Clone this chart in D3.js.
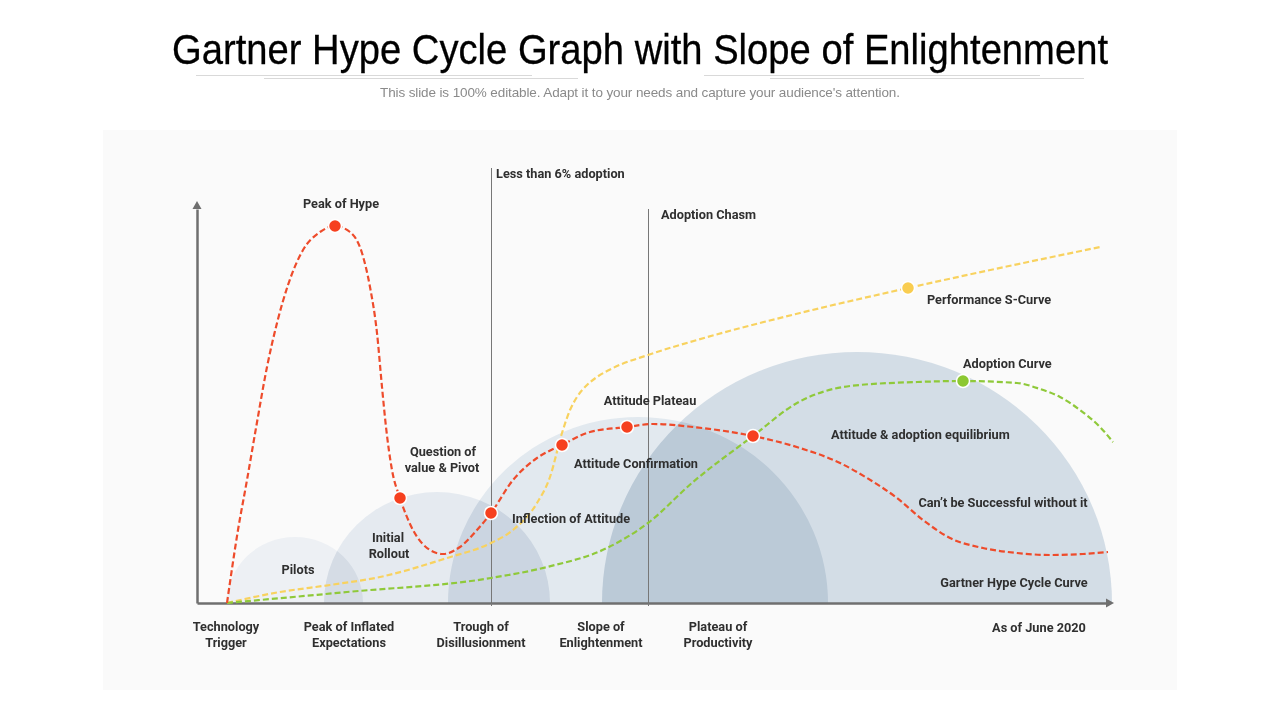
<!DOCTYPE html>
<html>
<head>
<meta charset="utf-8">
<script src="https://cdn.jsdelivr.net/npm/d3@7"></script>
<style>
  html, body { margin: 0; padding: 0; background: #fff; }
  svg { display: block; }
</style>
</head>
<body>
<svg id="plot" width="1280" height="720"></svg>
<script>
const hypeX = [30, 41, 50, 59, 70, 80, 91, 106, 123, 138, 153, 165, 173, 180, 185, 189, 195, 203, 216, 233, 246, 263, 280, 294, 316, 340, 365, 393, 430, 456, 496, 556, 603, 643, 670, 700, 726, 753, 786, 820, 853, 886, 911];
const hypeY = [0, 73, 123, 175, 236, 280, 318, 353, 371, 377, 371, 350, 316, 270, 216, 176, 133, 105, 73, 53, 49, 56, 73, 90, 123, 145, 158, 171, 176, 179, 176, 167, 155, 140, 125, 105, 83, 65, 55, 50, 48, 49, 51];

const perfX = [30, 83, 133, 183, 250, 294, 316, 340, 353, 365, 373, 380, 390, 400, 416, 451, 500, 603, 711, 903];
const perfY = [0, 11, 18, 26, 45, 60, 73, 100, 126, 170, 193, 206, 218, 226, 235, 248, 263, 290, 315, 356];

const adoptX = [30, 150, 294, 350, 410, 451, 496, 556, 600, 653, 720, 766, 820, 843, 863, 883, 903, 916];
const adoptY = [0, 11, 25, 36, 55, 80, 121, 167, 200, 217, 221, 222, 220, 214, 206, 193, 176, 161];

const hypeDotX = [138, 203, 294, 365, 430, 556];
const hypeDotY = [377, 105, 90, 158, 176, 167];

// Phase humps: centre, half width, height
const humpCentre = [98, 240, 441, 660];
const humpRadius = [68, 113, 190, 255];
const humpHeight = [66, 111, 186, 251];
const humpColour = ["#edf0f4", "#e5eaf0", "#e2e9ef", "#d3dde6"];

// Where the two adoption markers sit on the x axis, and how high they reach
const markerX = [294, 451];
const markerTop = [435, 394];

const svg = d3.select("#plot");
const originX = 197;
const originY = 603;
const axisLenX = 909;
const axisLenY = 394;
const arrowLen = 8;
const x = d3.scaleLinear().domain([0, axisLenX]).range([originX, originX + axisLenX]);
const y = d3.scaleLinear().domain([0, axisLenY]).range([originY, originY - axisLenY]);

svg.append("rect").attr("x", 103).attr("y", 130).attr("width", 1074).attr("height", 560).attr("fill", "#fafafa");

// Title block
svg.append("text")
    .attr("x", 172).attr("y", 64)
    .attr("textLength", 936).attr("lengthAdjust", "spacingAndGlyphs")
    .attr("font-family", "Liberation Sans Narrow, Liberation Sans").attr("font-size", 43).attr("fill", "#000")
    .attr("stroke", "#000").attr("stroke-width", 0.3)
    .text("Gartner Hype Cycle Graph with Slope of Enlightenment");

[[196, 532, 75], [264, 578, 78], [704, 1040, 75], [770, 1084, 78]].forEach(d => {
    svg.append("line")
        .attr("x1", d[0]).attr("x2", d[1]).attr("y1", d[2]).attr("y2", d[2])
        .attr("stroke", "#d9d9d9").attr("stroke-width", 1)
        .attr("shape-rendering", "crispEdges");
});

svg.append("text")
    .attr("x", 380).attr("y", 97)
    .attr("textLength", 520).attr("lengthAdjust", "spacing")
    .attr("font-family", "Liberation Sans Narrow, Liberation Sans").attr("font-size", 13.5).attr("fill", "#8a8a8a")
    .text("This slide is 100% editable. Adapt it to your needs and capture your audience's attention.");

// Humps, multiplied so the overlaps darken
const humps = svg.append("g").style("isolation", "isolate");
humpCentre.forEach((c, i) => {
    const rx = x(humpRadius[i]) - x(0);
    const ry = y(0) - y(humpHeight[i]);
    humps.append("path")
        .attr("d", `M${x(c) - rx},${y(0)} A${rx},${ry} 0 0 1 ${x(c) + rx},${y(0)} Z`)
        .attr("fill", humpColour[i])
        .style("mix-blend-mode", "multiply");
});

// Adoption markers
markerX.forEach((m, i) => {
    svg.append("line")
        .attr("x1", x(m)).attr("x2", x(m))
        .attr("y1", y(0)).attr("y2", y(markerTop[i]))
        .attr("stroke", "#777").attr("stroke-width", 1)
        .attr("shape-rendering", "crispEdges");
});

// Axes
const axisX = svg.append("g").attr("transform", `translate(0,${originY})`)
    .call(d3.axisBottom(x).tickValues(markerX).tickSize(3).tickSizeOuter(0).tickFormat(""));
const axisY = svg.append("g").attr("transform", `translate(${originX},0)`)
    .call(d3.axisLeft(y).tickValues([]).tickSize(0));
axisX.select(".domain").attr("stroke", "#6f6f6f").attr("stroke-width", 2.5);
axisX.selectAll(".tick line").attr("stroke", "#777").attr("shape-rendering", "crispEdges");
axisY.select(".domain").attr("stroke", "#6f6f6f").attr("stroke-width", 2.5);

svg.append("path").attr("fill", "#6f6f6f")
    .attr("d", `M${x(axisLenX)},${y(0) - 4.5} L${x(axisLenX) + arrowLen},${y(0)} L${x(axisLenX)},${y(0) + 4.5} Z`);
svg.append("path").attr("fill", "#6f6f6f")
    .attr("d", `M${x(0) - 4.5},${y(axisLenY)} L${x(0)},${y(axisLenY) - arrowLen} L${x(0) + 4.5},${y(axisLenY)} Z`);

// Curves
const curve = d3.line().x(d => x(d[0])).y(d => y(d[1])).curve(d3.curveMonotoneX);

function drawCurve(xs, ys, colour) {
    svg.append("path")
        .attr("d", curve(d3.zip(xs, ys)))
        .attr("fill", "none")
        .attr("stroke", colour)
        .attr("stroke-width", 2.2)
        .attr("stroke-dasharray", "6 3");
}

drawCurve(perfX, perfY, "#f8d25f");
drawCurve(adoptX, adoptY, "#8fc93a");
drawCurve(hypeX, hypeY, "#ee4b2b");

function drawDot(cx, cy, colour) {
    svg.append("circle")
        .attr("cx", x(cx)).attr("cy", y(cy)).attr("r", 6.5)
        .attr("fill", colour)
        .attr("stroke", "#fff").attr("stroke-width", 1.5);
}

hypeDotX.forEach((d, i) => drawDot(d, hypeDotY[i], "#f6401f"));
drawDot(711, 315, "#f9cd50");
drawDot(766, 222, "#8cc832");

// Labels: Roboto bold squeezed a little to the look of the original
function label(text, px, py, anchor) {
    svg.append("text")
        .attr("transform", `translate(${px},${py}) scale(0.98,1)`)
        .attr("text-anchor", anchor || "middle")
        .attr("font-family", "Roboto").attr("font-weight", 700)
        .attr("font-size", 13).attr("fill", "#2f2f2f")
        .text(text);
}

label("Peak of Hype", 341, 208);
label("Less than 6% adoption", 496, 178, "start");
label("Adoption Chasm", 661, 219, "start");
label("Performance S-Curve", 927, 304, "start");
label("Adoption Curve", 963, 368, "start");
label("Attitude Plateau", 650, 405);
label("Attitude & adoption equilibrium", 831, 439, "start");
label("Question of", 443, 456);
label("value & Pivot", 442, 472);
label("Attitude Confirmation", 636, 468);
label("Can\u2019t be Successful without it", 1003, 507);
label("Inflection of Attitude", 571, 523);
label("Initial", 388, 542);
label("Rollout", 389, 558);
label("Pilots", 298, 574);
label("Gartner Hype Cycle Curve", 1014, 587);
label("Technology", 226, 631);
label("Trigger", 226, 647);
label("Peak of Inflated", 349, 631);
label("Expectations", 349, 647);
label("Trough of", 481, 631);
label("Disillusionment", 481, 647);
label("Slope of", 601, 631);
label("Enlightenment", 601, 647);
label("Plateau of", 718, 631);
label("Productivity", 718, 647);
label("As of June 2020", 1039, 632);
</script>
</body>
</html>
